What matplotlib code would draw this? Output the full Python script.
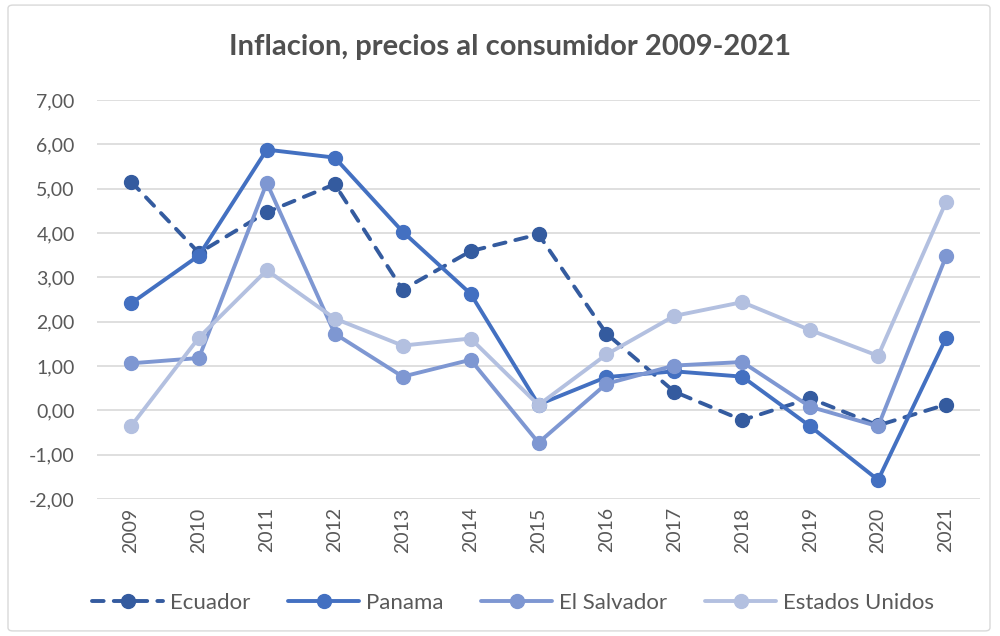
import numpy as np
import matplotlib
matplotlib.use('Agg')
import matplotlib.pyplot as plt
from matplotlib.patches import FancyBboxPatch

plt.rcParams['font.family'] = ['Lato', 'DejaVu Sans']

years = ['2009', '2010', '2011', '2012', '2013', '2014', '2015',
         '2016', '2017', '2018', '2019', '2020', '2021']
ecuador = [5.16, 3.55, 4.47, 5.10, 2.72, 3.59, 3.97, 1.73, 0.42, -0.22, 0.27, -0.34, 0.13]
panama = [2.41, 3.49, 5.88, 5.70, 4.03, 2.63, 0.13, 0.75, 0.88, 0.76, -0.36, -1.57, 1.63]
el_salvador = [1.06, 1.18, 5.13, 1.73, 0.76, 1.14, -0.73, 0.60, 1.01, 1.09, 0.08, -0.36, 3.47]
estados_unidos = [-0.36, 1.64, 3.16, 2.07, 1.46, 1.62, 0.12, 1.26, 2.13, 2.44, 1.81, 1.23, 4.70]

fig = plt.figure(figsize=(10, 6.36), dpi=100)
ax = fig.add_axes([0.097, 0.2154, 0.883, 0.6274])

x = np.arange(len(years))
lw = 2.8
ms = 10
txt = '#595959'

ax.plot(x, ecuador, color='#345B9F', lw=lw, marker='o', ms=ms,
        linestyle=(0, (3.0, 2.6)), dash_capstyle='round', label='Ecuador', zorder=3)
ax.plot(x, panama, color='#4370C1', lw=lw, marker='o', ms=ms,
        solid_capstyle='round', label='Panama', zorder=3)
ax.plot(x, el_salvador, color='#7E97D2', lw=lw, marker='o', ms=ms,
        solid_capstyle='round', label='El Salvador', zorder=3)
ax.plot(x, estados_unidos, color='#B3C0E0', lw=lw, marker='o', ms=ms,
        solid_capstyle='round', label='Estados Unidos', zorder=3)

ax.set_xlim(-0.5, len(years) - 0.5)
ax.set_ylim(-2, 7)
yt = np.arange(-2, 8, 1)
ax.set_yticks(yt)
ax.set_yticklabels([f'{v:.2f}'.replace('.', ',') for v in yt], fontsize=14, color=txt)
ax.set_xticks(x)
ax.set_xticklabels(years, rotation=90, fontsize=14, color=txt)
ax.tick_params(axis='y', length=0, pad=16)
ax.tick_params(axis='x', length=0, pad=6)
ax.grid(axis='y', color='#D9D9D9', lw=1.2, zorder=0)
ax.set_axisbelow(True)
for s in ax.spines.values():
    s.set_visible(False)

fig.text(0.51, 0.926, 'Inflacion, precios al consumidor 2009-2021', ha='center', va='center',
         fontsize=21, fontweight='bold', color='#505050')

fig.legend(loc='center', bbox_to_anchor=(0.513, 0.052), ncol=4, frameon=False,
           fontsize=16, labelcolor=txt, handlelength=3.2, columnspacing=1.7,
           handletextpad=0.3)

fig.patches.append(FancyBboxPatch((0.008, 0.008), 0.982, 0.984, boxstyle='round,pad=0,rounding_size=0.005',
                                  transform=fig.transFigure, fill=False, ec='#D9D9D9', lw=1.0))

fig.savefig('out.png', dpi=100)
